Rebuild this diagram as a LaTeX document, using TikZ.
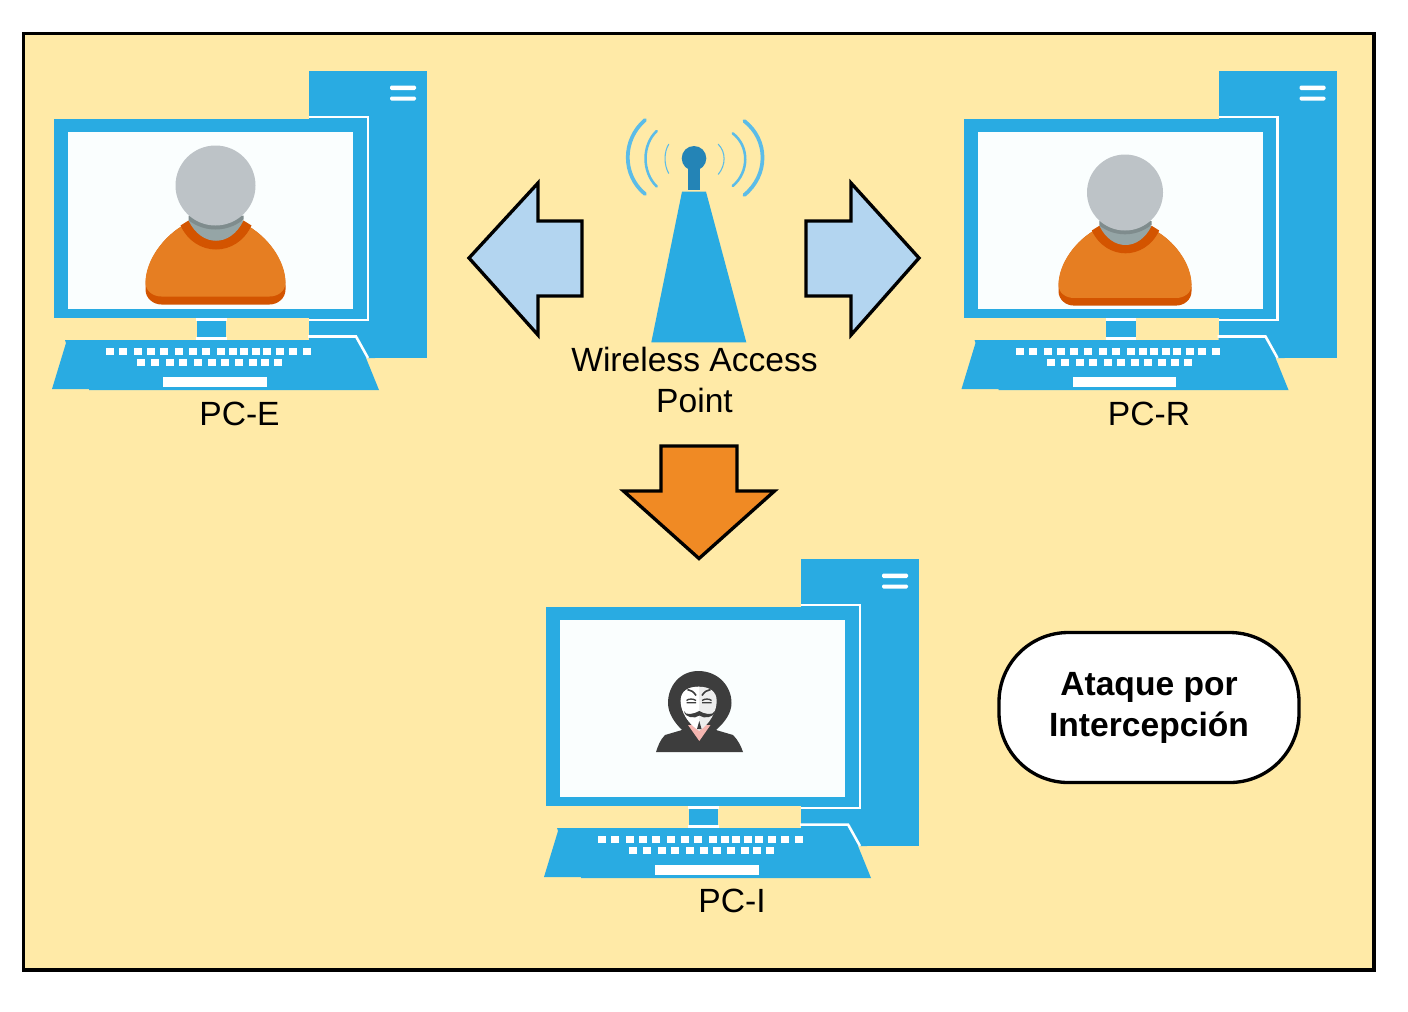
\documentclass[tikz,border=0pt]{standalone}
\usepackage{fontspec}
\setmainfont{Liberation Sans}
\definecolor{panelyellow}{HTML}{FFEAA7}
\definecolor{pcblue}{HTML}{29ABE2}
\definecolor{screenwhite}{HTML}{FAFEFE}
\definecolor{arrowblue}{HTML}{B3D5F0}
\definecolor{arroworange}{HTML}{F08A24}
\definecolor{mastblue}{HTML}{2484B6}
\definecolor{waveblue}{HTML}{5BBCE8}
\definecolor{shirtorange}{HTML}{E67E22}
\definecolor{shirtdark}{HTML}{D35400}
\definecolor{headgray}{HTML}{BDC3C7}
\definecolor{neckgray}{HTML}{95A5A6}
\definecolor{neckdark}{HTML}{7F8C8D}
\definecolor{hooddark}{HTML}{3D3D3D}
\definecolor{maskpink}{HTML}{F5B5B0}
\tikzset{every picture/.style={line width=0.75pt},
  label/.style={font=\fontsize{25.2}{30.75}\selectfont,align=center,inner sep=0pt},
  blockarrow/.style={draw=black,line width=2.5pt,miter limit=10},
  msgbox/.style={draw=black,line width=2.5pt,fill=white,rounded corners=52pt,minimum width=225pt,minimum height=112.5pt,align=center,inner sep=0pt,font=\fontsize{25.2}{30.75}\selectfont\bfseries},
  pics/pcunit/.style={code={
    %Shape: Tower
    \fill [pcblue] (309,71) -- (427,71) -- (427,358) -- (309,358) -- cycle ;
    \fill [white,rounded corners=1pt] (390,85.5) rectangle (416,90) ;
    \fill [white,rounded corners=1pt] (390,96.5) rectangle (416,100.5) ;
    \draw [white,line width=1.9pt] (309,117) -- (368,117) -- (368,320) -- (309,320) ;
    %Shape: Monitor
    \fill [pcblue] (54,119) rectangle (366,318) ;
    \fill [screenwhite] (68,131.5) rectangle (353,309) ;
    %Shape: Stand
    \fill [pcblue] (196.5,320) rectangle (226,338) ;
    \draw [white,line width=1.9pt] (196,319.5) -- (226.5,319.5) ;
    \draw [white,line width=1.9pt] (196,338.5) -- (226.5,338.5) ;
    %Shape: Keyboard
    \fill [panelyellow] (309,336) -- (369,336) -- (369,358) -- (309,358) -- cycle ;
    \fill [pcblue] (309,335) -- (357,335) -- (369,358) -- (309,358) -- cycle ;
    \fill [pcblue] (357,335) -- (375,335) -- (375,358) -- (369,358) -- cycle ;
    \fill [pcblue] (65,340) -- (355,340) -- (366,358) -- (379,390) -- (89,390) -- (89,389) -- (52,389) -- (66,343) -- cycle ;
    \draw [white,line width=1.9pt] (308,336.5) -- (356,336.5) -- (368,358) ;
    \foreach \kx in {110,123.3,138,151,164,178.7,193,206.3,221.3,233.3,244,256,267,280.3,292.7,306.7}
      \fill [white] (\kx-4,347.5) rectangle (\kx+4,354.5) ;
    \foreach \kx in {141,155.3,170.3,183.3,198,211.7,225,238.7,252.7,265.3,278}
      \fill [white] (\kx-4,358.5) rectangle (\kx+4,365.5) ;
    \fill [white] (163,377.3) rectangle (266.7,386.7) ;
  }},
  pics/person/.style={code={
    % origin is the centre of the head
    \fill [shirtdark] (-70,100) .. controls (-70,75) and (-52,50) .. (-29,38) -- (28,38) .. controls (52,50) and (70,75) .. (70,100) -- (70,104) .. controls (70,113) and (62,119) .. (54,119) -- (-54,119) .. controls (-62,119) and (-70,113) .. (-70,104) -- cycle ;
    \fill [shirtorange] (-70,97) .. controls (-70,75) and (-52,50) .. (-29,38) -- (28,38) .. controls (52,50) and (70,75) .. (70,97) .. controls (70,106) and (62,111) .. (54,111) -- (-54,111) .. controls (-62,111) and (-70,106) .. (-70,97) -- cycle ;
    \fill [shirtdark] (-35,40) .. controls (-20,72) and (21,72) .. (36,40) -- (28,35) -- (-27,35) -- cycle ;
    \fill [neckgray] (-27,35) .. controls (-14,62) and (15,62) .. (28,35) -- cycle ;
    \begin{scope}
      \clip (-27,30) -- (-27,35) .. controls (-14,62) and (15,62) .. (28,35) -- (28,30) -- cycle ;
      \fill [neckdark] (0,0) circle [radius=44] ;
    \end{scope}
    \fill [headgray] (0,0) circle [radius=40] ;
  }}
}
\begin{document}
\begin{tikzpicture}[x=0.75pt,y=0.75pt,yscale=-1,xscale=1]
\useasboundingbox (0,0) rectangle (1408,1011);

%Shape: Panel
\draw [line width=2.6pt,fill=panelyellow] (23.5,33.5) rectangle (1374,970) ;

%Shape: Computers
\pic [yscale=-1] at (0,0) {pcunit};
\pic [yscale=-1] at (909.5,0) {pcunit};
\pic [yscale=-1] at (492,488) {pcunit};
\pic [yscale=-1] at (215.5,185.5) {person};
\pic [yscale=-1,scale=0.95] at (1125,192.5) {person};

%Shape: Antenna
\fill [pcblue] (682,191.7) -- (706,191.7) -- (746.3,342.3) -- (651.3,342.3) -- cycle ;
\fill [mastblue] (687.7,167) rectangle (700,190) ;
\fill [mastblue] (694,158.3) circle [radius=12.3] ;
\draw [waveblue,line width=2.8pt,line cap=round] (645,120) .. controls (622,140) and (622,175) .. (645,194) ;
\draw [waveblue,line width=1.9pt,line cap=round] (656.7,131) .. controls (641.8,145) and (641.8,172) .. (656.7,186.5) ;
\draw [waveblue,line width=0.8pt,line cap=round] (668.7,144.3) .. controls (663.8,152) and (663.8,165) .. (668.7,173.3) ;
\draw [waveblue,line width=2.8pt,line cap=round] (744.3,121) .. controls (768.6,140) and (768.6,175) .. (744.3,195) ;
\draw [waveblue,line width=1.9pt,line cap=round] (732.7,133.3) .. controls (749.4,146) and (749.4,172) .. (732.7,186) ;
\draw [waveblue,line width=0.8pt,line cap=round] (718.3,144.3) .. controls (726,152) and (726,165) .. (718.3,174.3) ;

%Shape: Left Arrow
\draw [blockarrow,fill=arrowblue] (469,258) -- (538,183) -- (538,221) -- (582,221) -- (582,296) -- (538,296) -- (538,335) -- cycle ;
%Shape: Right Arrow
\draw [blockarrow,fill=arrowblue] (919,258) -- (851,183) -- (851,221) -- (806,221) -- (806,296) -- (851,296) -- (851,335) -- cycle ;
%Shape: Down Arrow
\draw [blockarrow,fill=arroworange] (699,558.5) -- (623.5,491) -- (661,491) -- (661,446) -- (737,446) -- (737,491) -- (774.5,491) -- cycle ;

%Shape: Hooded figure
\fill [hooddark] (698.3,671) .. controls (718,671) and (731.5,686) .. (731.5,703) .. controls (731.5,713) and (725,722) .. (716,730) -- (733,735) .. controls (738,740) and (741,746) .. (743,752) -- (656,752) .. controls (658,746) and (660,740) .. (665,735) -- (682,730) .. controls (674,722) and (668,713) .. (668,703) .. controls (668,686) and (680,671) .. (698.3,671) -- cycle ;
\fill [maskpink] (688,725) -- (710.5,725) -- (699.3,741) -- cycle ;
\fill [black!7] (699,686.7) .. controls (688,686.7) and (680.7,691) .. (680.7,701) .. controls (680.7,711) and (688,724) .. (699.3,730.7) .. controls (710,724) and (716.7,711) .. (716.7,701) .. controls (716.7,691) and (709,686.7) .. (699,686.7) -- cycle ;
\fill [white] (699,686.7) .. controls (688,686.7) and (680.7,691) .. (680.7,701) .. controls (680.7,711) and (688,724) .. (699.3,730.7) -- cycle ;
\draw [hooddark,line width=1.2pt] (687.5,689.5) .. controls (691,690) and (694,692) .. (696,695.5) ;
\draw [hooddark,line width=1.2pt] (710.5,689.5) .. controls (707,690) and (704,692) .. (702,695.5) ;
\draw [hooddark,line width=1pt] (686.5,700.5) .. controls (689,698.5) and (693,698.5) .. (696,700.5) (686.5,702.8) -- (696,702.8) (702,700.5) .. controls (705,698.5) and (709,698.5) .. (711.5,700.5) (702,702.8) -- (711.5,702.8) ;
\fill [hooddark] (684,711) .. controls (685,716) and (694,714) .. (699.3,711) .. controls (704,714) and (713,716) .. (715,711) .. controls (714,718) and (704,719) .. (699.3,715.5) .. controls (695,719) and (685,718) .. (684,711) -- cycle ;
\fill [hooddark] (699.3,721) -- (701.5,729) -- (697,729) -- cycle ;

% Text Node
\node [label] (wap) at (694.5,379.5) {Wireless Access\\Point};
% Text Node
\node [label] (pce) at (239.5,413.5) {PC-E};
% Text Node
\node [label] (pcr) at (1149,413.5) {PC-R};
% Text Node
\node [label] (pci) at (732,900.5) {PC-I};
% Text Node
\node [msgbox] (attack) at (1149,707.5) {Ataque por\\Intercepción};

\end{tikzpicture}
\end{document}
